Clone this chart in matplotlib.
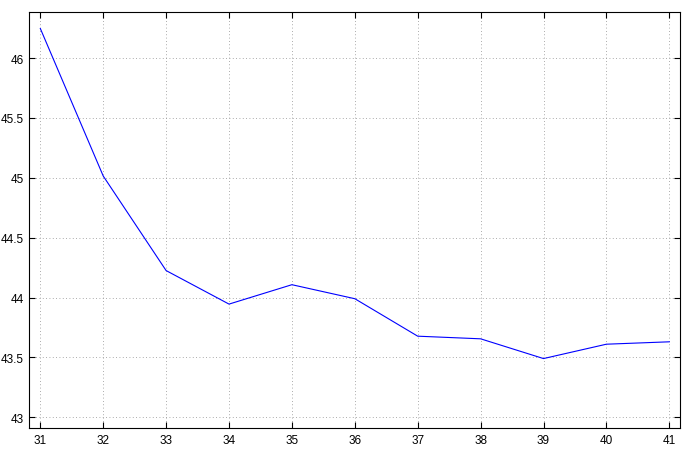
import matplotlib
matplotlib.use("Agg")
import matplotlib.pyplot as plt

x_values = [31, 32, 33, 34, 35, 36, 37, 38, 39, 40, 41]
y_values = [46.247, 45.015, 44.225, 43.945, 44.107, 43.99, 43.677, 43.655, 43.49, 43.61, 43.63]
x_ticks = [31, 32, 33, 34, 35, 36, 37, 38, 39, 40, 41]
y_ticks = [43, 43.5, 44, 44.5, 45, 45.5, 46]
y_tick_labels = ["43", "43.5", "44", "44.5", "45", "45.5", "46"]

plt.rcParams['font.family'] = ['Liberation Sans', 'DejaVu Sans']

fig = plt.figure(figsize=(6.92, 4.52), dpi=100)
ax = fig.add_axes([29/692, 1 - 429/452, (680 - 29)/692, (429 - 13)/452])
ax.plot(x_values, y_values, color=(0, 0, 1), linewidth=0.8)
ax.set_xlim(30.82, 41.17)
ax.set_ylim(42.91, 46.385)
ax.set_xticks(x_ticks)
ax.set_xticklabels([str(v) for v in x_ticks])
ax.set_yticks(y_ticks)
ax.set_yticklabels(y_tick_labels)
ax.grid(True, linestyle=(0, (1, 3)), color='#909090', linewidth=0.6)
ax.tick_params(direction='in', top=True, right=True, length=4, width=0.8, labelsize=8.5, pad=4)
for s in ax.spines.values():
    s.set_linewidth(0.8)
fig.savefig("out.png", dpi=100)
